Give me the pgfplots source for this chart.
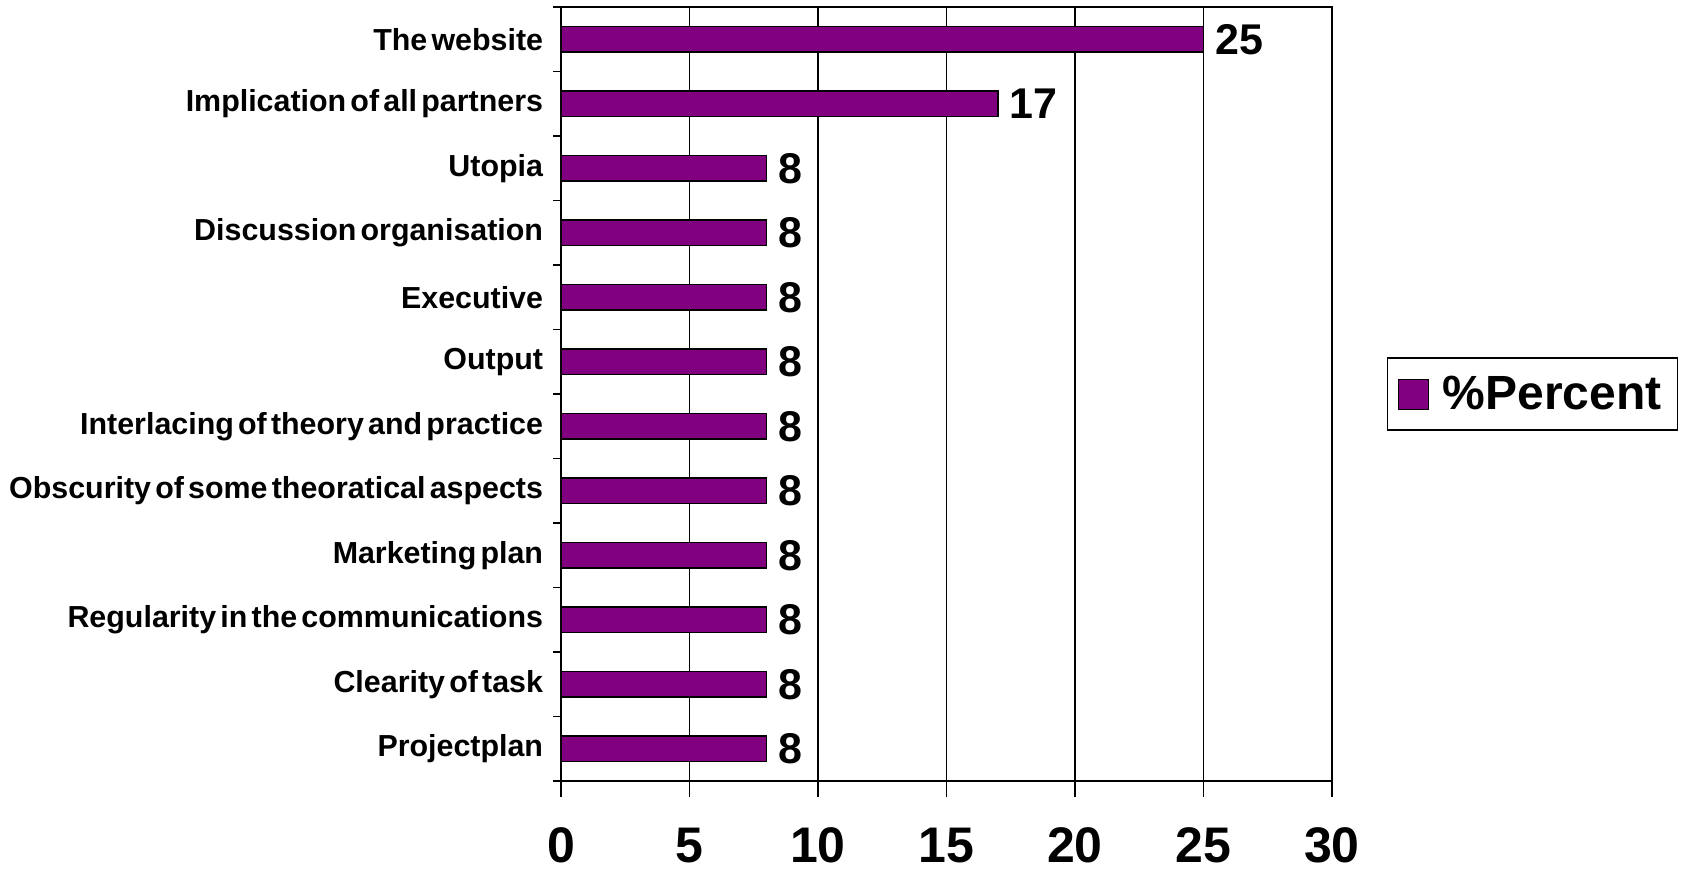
\documentclass[border=0pt]{standalone}
\usepackage{fontspec}
\setmainfont{Liberation Sans}
\newfontfamily\labelfont[WordSpace=0.5]{Liberation Sans}
\usepackage{pgfplots}
\pgfplotsset{compat=1.18}
\usepackage{pgfplotstable}
\definecolor{barpurple}{HTML}{800080}
\pgfplotstableread{
y val
0 8
1 8
2 8
3 8
4 8
5 8
6 8
7 8
8 8
9 8
10 17
11 25
}\datatable
\begin{document}
\begin{tikzpicture}
\path[use as bounding box] (-280.5pt,-46.5pt) rectangle (564.5pt,390.5pt);
\begin{axis}[
  at={(0,0)}, anchor=south west,
  scale only axis,
  width=385.5pt, height=387pt,
  xbar, bar width=12.9pt,
  xmin=0, xmax=30, ymin=-0.5, ymax=11.5,
  xtick={0,5,...,30},
  ytick={-0.5,0.5,1.5,2.5,3.5,4.5,5.5,6.5,7.5,8.5,9.5,10.5,11.5},
  yticklabels={Projectplan,Clearity of task,Regularity in the communications,Marketing plan,Obscurity of some theoratical aspects,Interlacing of theory and practice,Output,Executive,Discussion organisation,Utopia,Implication of all partners,The website,{}},
  xtick pos=bottom, ytick pos=left,
  y tick label style={yshift=16.125pt, anchor=east, inner sep=0pt, xshift=-4.5pt, font=\labelfont\bfseries\fontsize{15.2}{15.2}\selectfont},
  x tick label style={anchor=north, inner sep=0pt, yshift=-19pt, font=\bfseries\fontsize{25}{25}\selectfont},
  /pgf/number format/assume math mode=true,
  tick align=outside,
  xtick style={/pgfplots/major tick length=8pt, black, line width=0.75pt},
  ytick style={/pgfplots/major tick length=4pt, black, line width=0.75pt},
  axis line style={black, line width=0.75pt},
  xmajorgrids, grid style={black, line width=0.75pt},
  nodes near coords,
  nodes near coords style={font=\bfseries\fontsize{21.5}{21.5}\selectfont, anchor=west, inner sep=0pt, xshift=5.5pt},
  legend style={at={(1.0713,0.5)}, anchor=west, draw=black, line width=0.75pt,
    font=\bfseries\fontsize{24}{24}\selectfont, inner xsep=5pt, inner ysep=6pt,
    nodes={inner sep=3pt},
    /tikz/every odd column/.append style={column sep=4pt}},
  legend image code/.code={\draw[fill=barpurple,draw=black,line width=0.5pt] (0pt,-7.5pt) rectangle (15pt,7.5pt);},
]
\addplot[fill=barpurple, draw=black, line width=0.75pt] table[x=val, y=y] {\datatable};
\legend{\%Percent}
\end{axis}
\end{tikzpicture}
\end{document}
